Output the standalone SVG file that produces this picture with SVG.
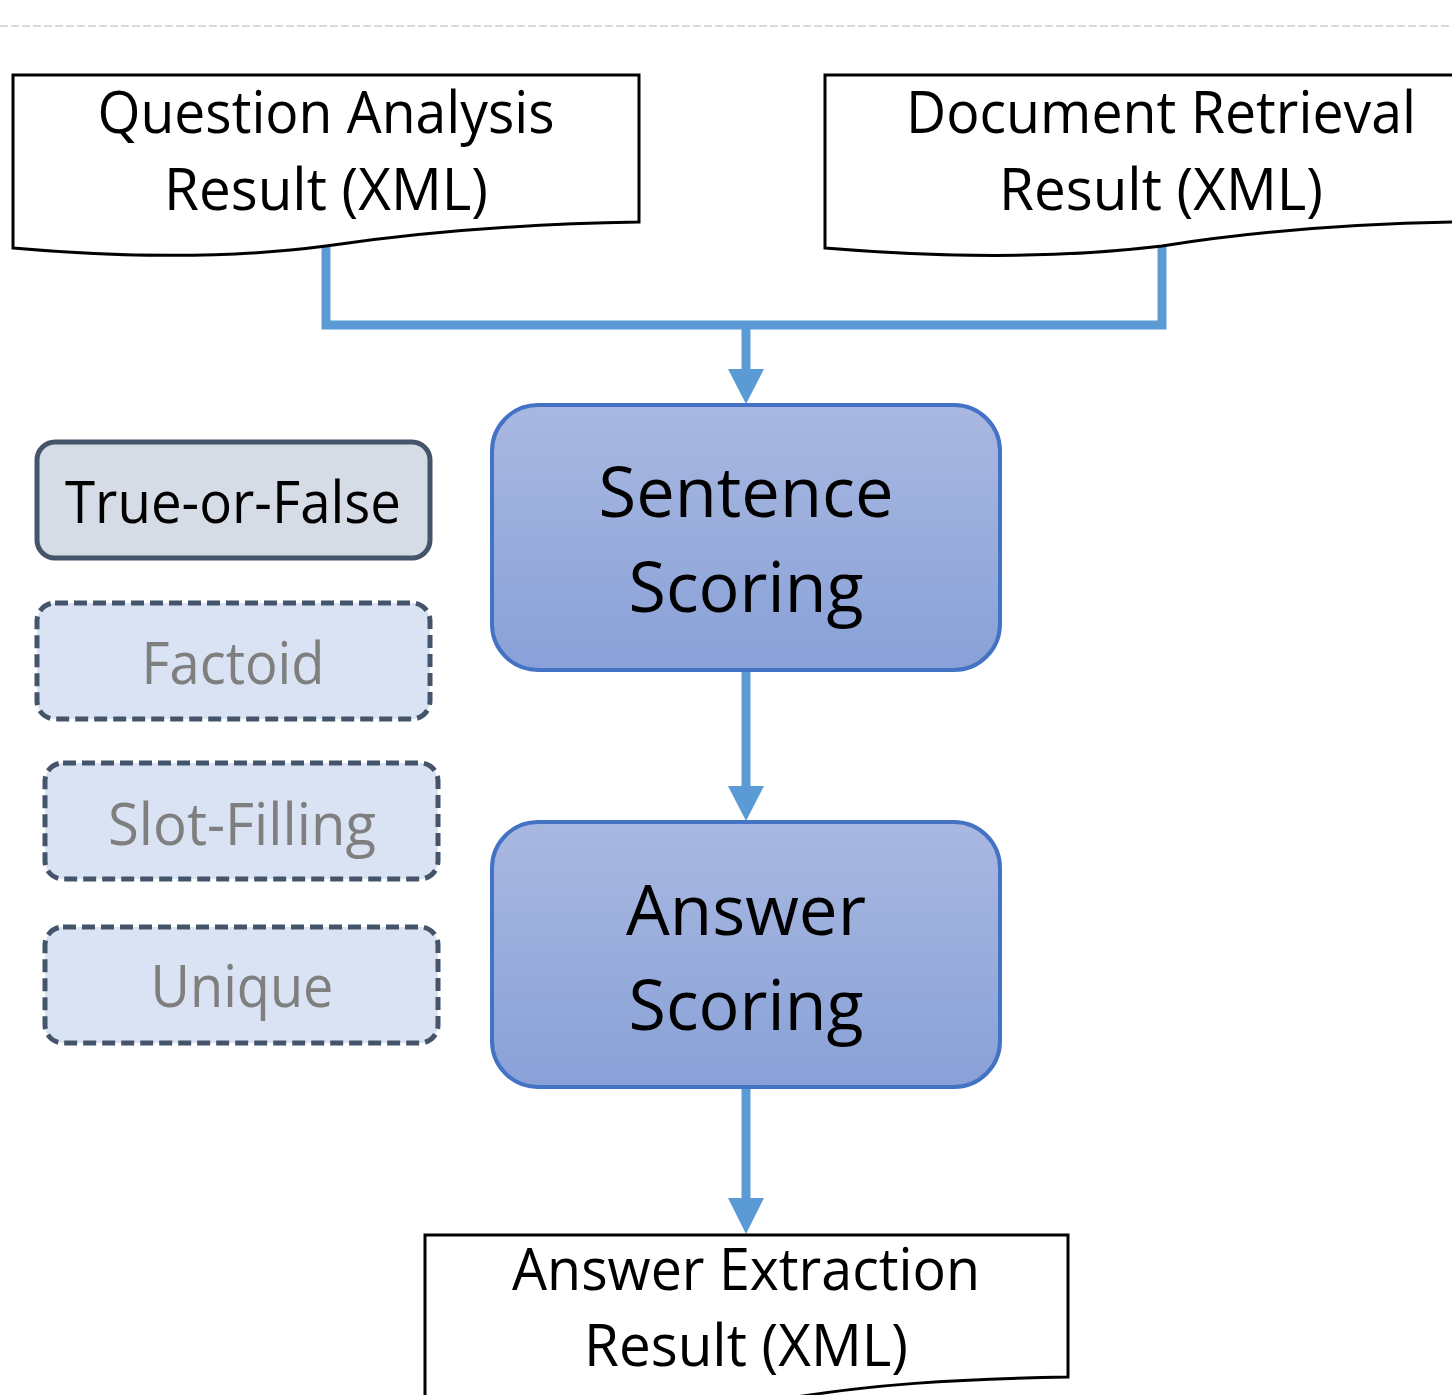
<svg xmlns="http://www.w3.org/2000/svg" width="1452" height="1395" viewBox="0 0 1452 1395">
<style>
.doc{fill:#fff;stroke:#000;stroke-width:3}
.t{font-family:"Open Sans","Liberation Sans",sans-serif;text-anchor:middle;fill:#000}
.dt{font-size:59px}
.bt{font-size:70px}
.lt{font-size:58px}
.grey{fill:#7f7f7f}
.big{fill:url(#g);stroke:#4472c4;stroke-width:4}
.solid{fill:#d6dce5;stroke:#44546a;stroke-width:5}
.dash{fill:#dae3f3;stroke:#44546a;stroke-width:5;stroke-dasharray:13 6}
.c{fill:none;stroke:#5b9bd5;stroke-width:9}
.ah{fill:#5b9bd5}
</style>
<defs>
<linearGradient id="g" x1="0" y1="0" x2="0" y2="1">
<stop offset="0" stop-color="#a9b8e0"/>
<stop offset="1" stop-color="#89a1d8"/>
</linearGradient>
</defs>
<rect width="1452" height="1395" fill="#fff"/>
<line x1="0" y1="26" x2="1452" y2="26" stroke="#d9d9d9" stroke-width="2" stroke-dasharray="8 3"/>

<g id="connectors">
<path class="c" d="M326,246 V325 H1162 V246"/>
<path class="c" d="M746,325 V372"/>
<polygon class="ah" points="728,369 764,369 746,404"/>
<path class="c" d="M746,670 V790"/>
<polygon class="ah" points="728,786 764,786 746,821"/>
<path class="c" d="M746,1087 V1202"/>
<polygon class="ah" points="728,1198 764,1198 746,1234"/>
</g>

<g id="qa">
<path class="doc" d="M13,75 H639 V222 C520,224 420,232 326,246 C250,256 150,260 13,248 Z"/>
<text class="t dt" x="326" y="133" textLength="457" lengthAdjust="spacingAndGlyphs">Question Analysis</text>
<text class="t dt" x="326" y="210" textLength="324" lengthAdjust="spacingAndGlyphs">Result (XML)</text>
</g>

<g id="dr">
<path class="doc" d="M825,75 H1456 V222 C1340,224 1250,232 1162,246 C1080,256 970,260 825,248 Z"/>
<text class="t dt" x="1161" y="133" textLength="510" lengthAdjust="spacingAndGlyphs">Document Retrieval</text>
<text class="t dt" x="1161" y="210" textLength="324" lengthAdjust="spacingAndGlyphs">Result (XML)</text>
</g>

<g id="ss">
<rect class="big" x="492" y="405" width="508" height="265" rx="46"/>
<text class="t bt" x="746" y="517" textLength="295" lengthAdjust="spacingAndGlyphs">Sentence</text>
<text class="t bt" x="746" y="612" textLength="235" lengthAdjust="spacingAndGlyphs">Scoring</text>
</g>

<g id="as">
<rect class="big" x="492" y="822" width="508" height="265" rx="46"/>
<text class="t bt" x="746" y="935" textLength="240" lengthAdjust="spacingAndGlyphs">Answer</text>
<text class="t bt" x="746" y="1030" textLength="235" lengthAdjust="spacingAndGlyphs">Scoring</text>
</g>

<g id="ae">
<path class="doc" d="M425,1235 H1068 V1377 C950,1379 870,1385 790,1398 L425,1400 Z"/>
<text class="t dt" x="746" y="1290" textLength="468" lengthAdjust="spacingAndGlyphs">Answer Extraction</text>
<text class="t dt" x="746" y="1366" textLength="324" lengthAdjust="spacingAndGlyphs">Result (XML)</text>
</g>

<g id="tf">
<rect class="solid" x="37" y="442" width="393" height="116" rx="18"/>
<text class="t lt" x="233" y="523" textLength="336" lengthAdjust="spacingAndGlyphs">True-or-False</text>
</g>
<g id="fa">
<rect class="dash" x="37" y="603" width="393" height="116" rx="18"/>
<text class="t lt grey" x="233" y="684" textLength="183" lengthAdjust="spacingAndGlyphs">Factoid</text>
</g>
<g id="sf">
<rect class="dash" x="45" y="763" width="393" height="116" rx="18"/>
<text class="t lt grey" x="242" y="845" textLength="268" lengthAdjust="spacingAndGlyphs">Slot-Filling</text>
</g>
<g id="un">
<rect class="dash" x="45" y="927" width="393" height="116" rx="18"/>
<text class="t lt grey" x="242" y="1007" textLength="183" lengthAdjust="spacingAndGlyphs">Unique</text>
</g>
</svg>
